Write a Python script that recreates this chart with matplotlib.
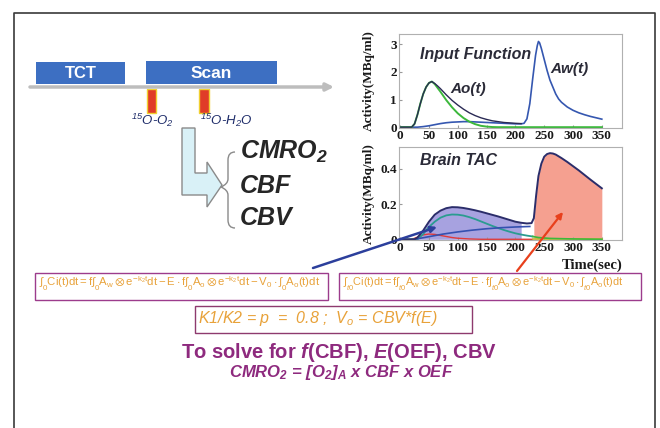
import matplotlib
matplotlib.use("Agg")
import numpy as np
import matplotlib.pyplot as plt
from matplotlib.patches import Rectangle, Polygon, PathPatch
from matplotlib.path import Path

plt.rcParams["font.family"] = ["Liberation Sans", "DejaVu Sans"]
plt.rcParams["mathtext.fontset"] = "custom"
plt.rcParams["mathtext.rm"] = "Liberation Sans"
plt.rcParams["mathtext.it"] = "Liberation Sans:italic"
plt.rcParams["mathtext.bf"] = "Liberation Sans:italic:bold"

# ---------------- data ----------------
# input function panel (time in sec, activity in MBq/ml)
t_in = [0, 20, 25, 30, 35, 40, 45, 50, 55, 60, 65, 70, 80, 90, 100, 110, 120,
        130, 140, 150, 160, 170, 180, 190, 200, 210, 250, 300, 350]
ao = [0, 0, 0.12, 0.45, 0.85, 1.2, 1.45, 1.6, 1.65, 1.56, 1.42, 1.28, 0.98, 0.72,
      0.5, 0.33, 0.2, 0.11, 0.05, 0.02, 0.005, 0, 0, 0, 0, 0, 0, 0, 0]
t_tot = [0, 20, 25, 30, 35, 40, 45, 50, 55, 60, 65, 70, 80, 90, 100, 110, 120,
         130, 140, 150, 160, 170, 180, 190, 200, 210]
a_total = [0, 0, 0.12, 0.45, 0.85, 1.2, 1.45, 1.6, 1.65, 1.58, 1.49, 1.39, 1.17,
           0.97, 0.8, 0.65, 0.52, 0.42, 0.34, 0.28, 0.23, 0.2, 0.17, 0.155, 0.14, 0.13]
t_aw = [0, 30, 40, 50, 60, 70, 80, 90, 100, 110, 120, 130, 140, 150, 160, 170,
        180, 190, 200, 210, 215, 220, 225, 230, 235, 238, 240, 242, 245, 250,
        255, 260, 270, 275, 280, 290, 300, 310, 320, 330, 340, 350]
aw = [0, 0, 0.02, 0.05, 0.09, 0.13, 0.16, 0.18, 0.19, 0.2, 0.2, 0.19, 0.18, 0.17,
      0.16, 0.15, 0.14, 0.13, 0.12, 0.12, 0.14, 0.3, 0.85, 1.75, 2.6, 2.95, 3.1,
      3.05, 2.85, 2.45, 2.05, 1.7, 1.2, 1.02, 0.9, 0.73, 0.61, 0.52, 0.45, 0.39,
      0.34, 0.29]

# brain TAC panel
t_tac = [0, 25, 30, 40, 50, 60, 70, 80, 90, 100, 110, 120, 130, 140, 150, 160,
         170, 180, 190, 200, 210, 220, 228, 232, 236, 240, 245, 250, 255, 260,
         265, 270, 280, 290, 300, 310, 320, 330, 340, 350]
tac = [0, 0, 0.01, 0.05, 0.1, 0.14, 0.163, 0.177, 0.183, 0.182, 0.178, 0.172,
       0.165, 0.157, 0.148, 0.139, 0.13, 0.12, 0.11, 0.1, 0.094, 0.09, 0.092,
       0.12, 0.25, 0.36, 0.43, 0.47, 0.485, 0.49, 0.488, 0.482, 0.462, 0.44,
       0.416, 0.392, 0.366, 0.34, 0.315, 0.29]
t_oxy = [0, 30, 40, 50, 60, 70, 80, 90, 100, 110, 120, 130, 140, 150, 160, 170,
         180, 190, 200, 210, 220, 230]
c_oxy = [0, 0, 0.03, 0.07, 0.1, 0.123, 0.136, 0.141, 0.14, 0.135, 0.126, 0.115,
         0.102, 0.089, 0.076, 0.064, 0.053, 0.043, 0.034, 0.027, 0.021, 0.016]
t_gr = [230, 240, 260, 300, 350]
c_gr = [0.016, 0.01, 0.005, 0.002, 0]
t_wat = [25, 50, 75, 100, 125, 150, 175, 200, 225]
c_wat = [0, 0.015, 0.03, 0.042, 0.052, 0.06, 0.066, 0.07, 0.073]
t_vasc = [20, 30, 40, 50, 60, 70, 80, 90, 100, 120, 140, 230]
c_vasc = [0, 0.012, 0.025, 0.03, 0.028, 0.022, 0.016, 0.01, 0.006, 0.002, 0, 0]
t_base = [230, 350]
c_base = [0, 0]

x_ticks = [0, 50, 100, 150, 200, 250, 300, 350]
top_yticks = [0, 1, 2, 3]
bot_yticks = [0, 0.2, 0.4]

W, H = 660, 428
fig = plt.figure(figsize=(6.6, 4.28), dpi=100)
fig.patch.set_facecolor("white")


def px_axes(left, top, right, bottom):
    return fig.add_axes([left / W, 1 - bottom / H, (right - left) / W, (bottom - top) / H])


def style_plot(ax, yticks):
    ax.set_xlim(-2, 385)
    ax.set_xticks(x_ticks)
    ax.set_yticks(yticks)
    for s in ax.spines.values():
        s.set_color("#b0b0b0")
        s.set_linewidth(0.8)
    ax.tick_params(direction="in", length=2.5, color="#999999", pad=1.5,
                   labelsize=9.5, labelcolor="#1a1a1a")
    for lab in ax.get_xticklabels() + ax.get_yticklabels():
        lab.set_fontfamily("Liberation Serif")
        lab.set_fontweight("bold")
    ax.set_ylabel("Activity(MBq/ml)", fontfamily="Liberation Serif",
                  fontweight="bold", fontsize=9.5, color="#1a1a1a")
    ax.yaxis.set_label_coords(-0.107, 0.5)


# ---------------- input function ----------------
ax1 = px_axes(399, 34, 622, 128)
ax1.plot(t_aw, aw, color="#3557b0", lw=1.2)
ax1.plot(t_in, ao, color="#3cb83c", lw=1.4)
ax1.plot(t_tot, a_total, color="#2a2a55", lw=1.0)
ax1.set_ylim(-0.03, 3.37)
style_plot(ax1, top_yticks)
ax1.set_yticklabels(["0", "1", "2", "3"])
ax1.text(34, 2.62, "Input Function", fontsize=11.5, fontweight="bold",
         style="italic", color="#2b2b38", va="center")
ax1.text(260, 2.1, "Aw(t)", fontsize=11, fontweight="bold", style="italic",
         color="#2b2b38", va="center")
ax1.text(87, 1.37, "Ao(t)", fontsize=11, fontweight="bold", style="italic",
         color="#2b2b38", va="center")

# ---------------- brain TAC ----------------
ax2 = px_axes(399, 147, 622, 240)
tt = np.array(t_tac)
cc = np.array(tac)
ax2.fill_between(tt, 0, cc, where=(tt >= 25) & (tt <= 210), color="#a7a2e0",
                 lw=0)
ax2.fill_between(tt, 0, cc, where=tt >= 232, color="#f5a090", lw=0)
ax2.plot(t_vasc, c_vasc, color="#e03a3a", lw=1.0)
ax2.plot(t_base, c_base, color="#c8b838", lw=1.2)
ax2.plot(t_oxy, c_oxy, color="#2a9c90", lw=1.3)
ax2.plot(t_gr, c_gr, color="#3cb83c", lw=1.2)
ax2.plot(t_wat, c_wat, color="#3550b0", lw=1.2)
ax2.plot(t_tac, tac, color="#2b2d6a", lw=1.4)
ax2.set_ylim(-0.004, 0.525)
style_plot(ax2, bot_yticks)
ax2.set_yticklabels(["0", "0.2", "0.4"])
ax2.text(34, 0.45, "Brain TAC", fontsize=11.5, fontweight="bold",
         style="italic", color="#2b2b38", va="center")
ax2.text(1.0, -0.2, "Time(sec)", transform=ax2.transAxes, ha="right", va="top",
         fontfamily="Liberation Serif", fontweight="bold", fontsize=10.5,
         color="#1a1a1a")

# ---------------- slide overlay in pixel coordinates ----------------
ov = fig.add_axes([0, 0, 1, 1])
ov.set_xlim(0, W)
ov.set_ylim(H, 0)
ov.axis("off")
ov.patch.set_alpha(0)

ov.plot([14, 14, 655, 655], [428, 12.5, 12.5, 428], color="#3a3a3a", lw=1.2)

# timeline
ov.annotate("", xy=(334, 87), xytext=(30, 87),
            arrowprops=dict(arrowstyle="-|>", color="#bdbdbd", lw=2.5,
                            mutation_scale=11, shrinkA=0, shrinkB=0))
ov.add_patch(Rectangle((36, 62), 89, 22, fc="#3d6fc2", ec="none"))
ov.add_patch(Rectangle((146, 61), 131, 23, fc="#3d6fc2", ec="none"))
ov.text(80.5, 73.5, "TCT", color="white", fontsize=12, fontweight="bold",
        ha="center", va="center")
ov.text(211.5, 73, "Scan", color="white", fontsize=12.5, fontweight="bold",
        ha="center", va="center")
ov.add_patch(Rectangle((147, 89), 9, 24, fc="#e03c28", ec="#f0d030", lw=1))
ov.add_patch(Rectangle((199, 89), 10, 24, fc="#e03c28", ec="#f0d030", lw=1))
ov.text(152, 120, r"$^\mathregular{15}$O-O$_\mathregular{2}$", color="#1f2d6a",
        fontsize=9.5, style="italic", ha="center", va="center")
ov.text(200, 120, r"$^\mathregular{15}$O-H$_\mathregular{2}$O", color="#1f2d6a",
        fontsize=9.5, style="italic", ha="left", va="center")

# L-shaped arrow
ov.add_patch(Polygon([(182, 128), (195, 128), (195, 173), (207, 173), (207, 162),
                      (222, 185), (207, 207), (207, 195), (182, 195)],
                     closed=True, fc="#d9f1f7", ec="#8a8a8a", lw=1))

# curly brace
verts = [(235, 152), (228, 152), (228, 160), (228, 179), (228, 184), (221, 187),
         (228, 190), (228, 195), (228, 220), (228, 228), (235, 228)]
codes = [Path.MOVETO, Path.CURVE3, Path.CURVE3, Path.LINETO, Path.CURVE3,
         Path.CURVE3, Path.CURVE3, Path.CURVE3, Path.LINETO, Path.CURVE3,
         Path.CURVE3]
ov.add_patch(PathPatch(Path(verts, codes), fc="none", ec="#8a8a8a", lw=1))

for label, y in [(r"CMRO$_\mathregular{2}$", 152), ("CBF", 186), ("CBV", 218)]:
    ov.text(240, y, label, fontsize=18, fontweight="bold", style="italic",
            color="#262626", ha="left", va="center")

# arrows into the TAC panel
ov.annotate("", xy=(437, 227), xytext=(313, 268),
            arrowprops=dict(arrowstyle="-|>", color="#2c3f9c", lw=1.8,
                            mutation_scale=9, shrinkA=0, shrinkB=0))
ov.annotate("", xy=(563, 212), xytext=(517, 271),
            arrowprops=dict(arrowstyle="-|>", color="#e8401c", lw=1.6,
                            mutation_scale=9, shrinkA=0, shrinkB=0))

# equation boxes
box_ec = "#9c3c8c"
eq_col = "#e8a23a"
ov.add_patch(Rectangle((35, 273), 293, 27, fc="none", ec=box_ec, lw=1))
ov.add_patch(Rectangle((339, 273), 302, 27, fc="none", ec=box_ec, lw=1))
eq_left = (r"$\int_0\mathregular{Ci(t)dt = f}\int_0\mathregular{A_w\otimes e^{-k_2t}dt"
           r" - E\cdot f}\int_0\mathregular{A_o\otimes e^{-k_2t}dt - V_0\cdot}"
           r"\int_0\mathregular{A_o(t)dt}$")
eq_right = (r"$\int_{t0}\mathregular{Ci(t)dt = f}\int_{t0}\mathregular{A_w\otimes e^{-k_2t}dt"
            r" - E\cdot f}\int_{t0}\mathregular{A_o\otimes e^{-k_2t}dt - V_0\cdot}"
            r"\int_{t0}\mathregular{A_o(t)dt}$")
ov.text(39, 284, eq_left, fontsize=8.2, color=eq_col, ha="left", va="center")
ov.text(343, 284, eq_right, fontsize=7.9, color=eq_col, ha="left", va="center")

ov.add_patch(Rectangle((195, 306), 277, 27, fc="none", ec="#8e3a6e", lw=1))
ov.text(198, 318.5, r"K1/K2 = p  =  0.8 ;  V$_\mathregular{o}$ = CBV*f(E)",
        fontsize=11.5, style="italic", color=eq_col, ha="left", va="center")

title_col = "#8e2a7e"
ov.text(339, 353, r"To solve for $\mathbf{f}$(CBF), $\mathbf{E}$(OEF), CBV",
        fontsize=14.5, fontweight="bold", color=title_col, ha="center",
        va="center")
ov.text(341, 373,
        r"CMRO$_\mathregular{2}$ = [O$_\mathregular{2}$]$_\mathregular{A}$ x CBF x OEF",
        fontsize=12, fontweight="bold", style="italic", color=title_col,
        ha="center", va="center")

fig.savefig("out.png", dpi=100)
